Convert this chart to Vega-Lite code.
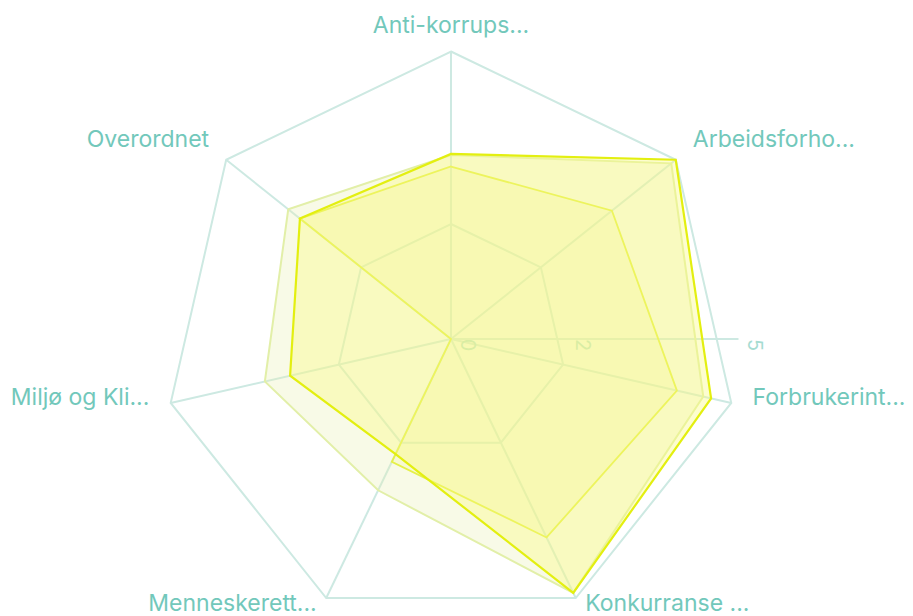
{
  "$schema": "https://vega.github.io/schema/vega-lite/v6.json",
  "width": 913,
  "height": 616,
  "padding": 0,
  "autosize": "none",
  "background": "#ffffff",
  "config": {"view": {"stroke": null}},
  "datasets": {
    "scores": [
      {"serie": "A", "dim": "Anti-korrups...", "value": 3.22},
      {"serie": "A", "dim": "Arbeidsforho...", "value": 5.0},
      {"serie": "A", "dim": "Forbrukerint...", "value": 4.64},
      {"serie": "A", "dim": "Konkurranse ...", "value": 4.9},
      {"serie": "A", "dim": "Menneskerett...", "value": 2.22},
      {"serie": "A", "dim": "Miljø og Kli...", "value": 2.87},
      {"serie": "A", "dim": "Overordnet", "value": 3.36},
      {"serie": "B", "dim": "Anti-korrups...", "value": 3.2},
      {"serie": "B", "dim": "Arbeidsforho...", "value": 4.9},
      {"serie": "B", "dim": "Forbrukerint...", "value": 4.5},
      {"serie": "B", "dim": "Konkurranse ...", "value": 4.9},
      {"serie": "B", "dim": "Menneskerett...", "value": 2.92},
      {"serie": "B", "dim": "Miljø og Kli...", "value": 3.32},
      {"serie": "B", "dim": "Overordnet", "value": 3.62},
      {"serie": "C", "dim": "Anti-korrups...", "value": 3.0},
      {"serie": "C", "dim": "Arbeidsforho...", "value": 3.58},
      {"serie": "C", "dim": "Forbrukerint...", "value": 4.03},
      {"serie": "C", "dim": "Konkurranse ...", "value": 3.83},
      {"serie": "C", "dim": "Menneskerett...", "value": 2.37},
      {"serie": "C", "dim": "Miljø og Kli...", "value": 0},
      {"serie": "C", "dim": "Overordnet", "value": 3.36}
    ],
    "rings": [
      {"value": 2, "dim": "Anti-korrups..."},
      {"value": 2, "dim": "Arbeidsforho..."},
      {"value": 2, "dim": "Forbrukerint..."},
      {"value": 2, "dim": "Konkurranse ..."},
      {"value": 2, "dim": "Menneskerett..."},
      {"value": 2, "dim": "Miljø og Kli..."},
      {"value": 2, "dim": "Overordnet"},
      {"value": 5, "dim": "Anti-korrups..."},
      {"value": 5, "dim": "Arbeidsforho..."},
      {"value": 5, "dim": "Forbrukerint..."},
      {"value": 5, "dim": "Konkurranse ..."},
      {"value": 5, "dim": "Menneskerett..."},
      {"value": 5, "dim": "Miljø og Kli..."},
      {"value": 5, "dim": "Overordnet"}
    ],
    "ticks": [
      {"tick": 0, "label": "0"},
      {"tick": 2, "label": "2"},
      {"tick": 5, "label": "5"}
    ]
  },
  "layer": [
    {
      "data": {"name": "rings"},
      "transform": [
        {"window": [{"op": "row_number", "as": "rn"}], "groupby": ["value"]},
        {"calculate": "(datum.rn - 1) * 2 * PI / 7", "as": "ang"},
        {"calculate": "datum.value * sin(datum.ang)", "as": "px"},
        {"calculate": "datum.value * cos(datum.ang)", "as": "py"}
      ],
      "mark": {"type": "line", "interpolate": "linear-closed", "stroke": "#cde9e2", "strokeWidth": 2},
      "encoding": {
        "x": {"field": "px", "type": "quantitative", "scale": {"domain": [-7.843, 8.035], "nice": false, "zero": false}, "axis": null},
        "y": {"field": "py", "type": "quantitative", "scale": {"domain": [-4.817, 5.896], "nice": false, "zero": false}, "axis": null},
        "detail": {"field": "value", "type": "nominal"},
        "order": {"field": "rn", "type": "quantitative"}
      }
    },
    {
      "data": {"name": "rings"},
      "transform": [
        {"window": [{"op": "row_number", "as": "rn"}], "groupby": ["value"]},
        {"filter": "datum.value == 5"},
        {"calculate": "(datum.rn - 1) * 2 * PI / 7", "as": "ang"},
        {"calculate": "datum.value * sin(datum.ang)", "as": "px"},
        {"calculate": "datum.value * cos(datum.ang)", "as": "py"},
        {"calculate": "0", "as": "origin"}
      ],
      "mark": {"type": "rule", "stroke": "#cde9e2", "strokeWidth": 2},
      "encoding": {
        "x": {"field": "px", "type": "quantitative", "scale": {"domain": [-7.843, 8.035], "nice": false, "zero": false}, "axis": null},
        "y": {"field": "py", "type": "quantitative", "scale": {"domain": [-4.817, 5.896], "nice": false, "zero": false}, "axis": null},
        "x2": {"field": "origin"},
        "y2": {"field": "origin"}
      }
    },
    {
      "data": {"name": "ticks"},
      "transform": [
        {"joinaggregate": [{"op": "max", "field": "tick", "as": "tmax"}]},
        {"filter": "datum.tick == 0"}
      ],
      "mark": {"type": "rule", "stroke": "#cde9e2", "strokeWidth": 2},
      "encoding": {
        "x": {"field": "tick", "type": "quantitative", "scale": {"domain": [-7.843, 8.035], "nice": false, "zero": false}, "axis": null},
        "x2": {"field": "tmax"},
        "y": {"field": "tick", "type": "quantitative", "scale": {"domain": [-4.817, 5.896], "nice": false, "zero": false}, "axis": null}
      }
    },
    {
      "data": {"name": "ticks"},
      "transform": [{"calculate": "0", "as": "origin"}],
      "mark": {"type": "text", "angle": 90, "align": "center", "baseline": "middle", "dx": 6, "dy": -16, "font": "Inter", "fontSize": 20, "fill": "#a6dcd2"},
      "encoding": {
        "x": {"field": "tick", "type": "quantitative", "scale": {"domain": [-7.843, 8.035], "nice": false, "zero": false}, "axis": null},
        "y": {"field": "origin", "type": "quantitative", "scale": {"domain": [-4.817, 5.896], "nice": false, "zero": false}, "axis": null},
        "text": {"field": "label", "type": "nominal"}
      }
    },
    {
      "data": {"name": "scores"},
      "transform": [
        {"filter": "datum.serie == 'B'"},
        {"window": [{"op": "row_number", "as": "rn"}]},
        {"calculate": "(datum.rn - 1) * 2 * PI / 7", "as": "ang"},
        {"calculate": "datum.value * sin(datum.ang)", "as": "px"},
        {"calculate": "datum.value * cos(datum.ang)", "as": "py"}
      ],
      "mark": {"type": "line", "interpolate": "linear-closed", "stroke": "#e2efa8", "strokeWidth": 2, "fill": "#e8f0b0", "fillOpacity": 0.3},
      "encoding": {
        "x": {"field": "px", "type": "quantitative", "scale": {"domain": [-7.843, 8.035], "nice": false, "zero": false}, "axis": null},
        "y": {"field": "py", "type": "quantitative", "scale": {"domain": [-4.817, 5.896], "nice": false, "zero": false}, "axis": null},
        "order": {"field": "rn", "type": "quantitative"}
      }
    },
    {
      "data": {"name": "scores"},
      "transform": [
        {"filter": "datum.serie == 'C'"},
        {"window": [{"op": "row_number", "as": "rn"}]},
        {"calculate": "(datum.rn - 1) * 2 * PI / 7", "as": "ang"},
        {"calculate": "datum.value * sin(datum.ang)", "as": "px"},
        {"calculate": "datum.value * cos(datum.ang)", "as": "py"}
      ],
      "mark": {"type": "line", "interpolate": "linear-closed", "stroke": "#e5f048", "strokeWidth": 1.8, "fill": "#f5f680", "fillOpacity": 0.2},
      "encoding": {
        "x": {"field": "px", "type": "quantitative", "scale": {"domain": [-7.843, 8.035], "nice": false, "zero": false}, "axis": null},
        "y": {"field": "py", "type": "quantitative", "scale": {"domain": [-4.817, 5.896], "nice": false, "zero": false}, "axis": null},
        "order": {"field": "rn", "type": "quantitative"}
      }
    },
    {
      "data": {"name": "scores"},
      "transform": [
        {"filter": "datum.serie == 'A'"},
        {"window": [{"op": "row_number", "as": "rn"}]},
        {"calculate": "(datum.rn - 1) * 2 * PI / 7", "as": "ang"},
        {"calculate": "datum.value * sin(datum.ang)", "as": "px"},
        {"calculate": "datum.value * cos(datum.ang)", "as": "py"}
      ],
      "mark": {"type": "line", "interpolate": "linear-closed", "stroke": "#e3ef10", "strokeWidth": 2.2, "fill": "#fafa80", "fillOpacity": 0.38},
      "encoding": {
        "x": {"field": "px", "type": "quantitative", "scale": {"domain": [-7.843, 8.035], "nice": false, "zero": false}, "axis": null},
        "y": {"field": "py", "type": "quantitative", "scale": {"domain": [-4.817, 5.896], "nice": false, "zero": false}, "axis": null},
        "order": {"field": "rn", "type": "quantitative"}
      }
    },
    {
      "data": {"name": "rings"},
      "transform": [
        {"window": [{"op": "row_number", "as": "rn"}], "groupby": ["value"]},
        {"filter": "datum.value == 5"},
        {"calculate": "(datum.rn - 1) * 2 * PI / 7", "as": "ang"},
        {"calculate": "5.38 * sin(datum.ang)", "as": "px"},
        {"calculate": "5.29 * cos(datum.ang) + 0.157", "as": "py"}
      ],
      "layer": [
        {
          "transform": [{"filter": "datum.rn == 1"}],
          "mark": {"type": "text", "align": "center", "baseline": "middle", "font": "Inter", "fontSize": 23, "fill": "#72c8bb"},
          "encoding": {
            "x": {"field": "px", "type": "quantitative", "scale": {"domain": [-7.843, 8.035], "nice": false, "zero": false}, "axis": null},
            "y": {"field": "py", "type": "quantitative", "scale": {"domain": [-4.817, 5.896], "nice": false, "zero": false}, "axis": null},
            "text": {"field": "dim", "type": "nominal"}
          }
        },
        {
          "transform": [{"filter": "datum.rn >= 2 && datum.rn <= 4"}],
          "mark": {"type": "text", "align": "left", "baseline": "middle", "font": "Inter", "fontSize": 23, "fill": "#72c8bb"},
          "encoding": {
            "x": {"field": "px", "type": "quantitative", "scale": {"domain": [-7.843, 8.035], "nice": false, "zero": false}, "axis": null},
            "y": {"field": "py", "type": "quantitative", "scale": {"domain": [-4.817, 5.896], "nice": false, "zero": false}, "axis": null},
            "text": {"field": "dim", "type": "nominal"}
          }
        },
        {
          "transform": [{"filter": "datum.rn >= 5"}],
          "mark": {"type": "text", "align": "right", "baseline": "middle", "font": "Inter", "fontSize": 23, "fill": "#72c8bb"},
          "encoding": {
            "x": {"field": "px", "type": "quantitative", "scale": {"domain": [-7.843, 8.035], "nice": false, "zero": false}, "axis": null},
            "y": {"field": "py", "type": "quantitative", "scale": {"domain": [-4.817, 5.896], "nice": false, "zero": false}, "axis": null},
            "text": {"field": "dim", "type": "nominal"}
          }
        }
      ]
    }
  ]
}
